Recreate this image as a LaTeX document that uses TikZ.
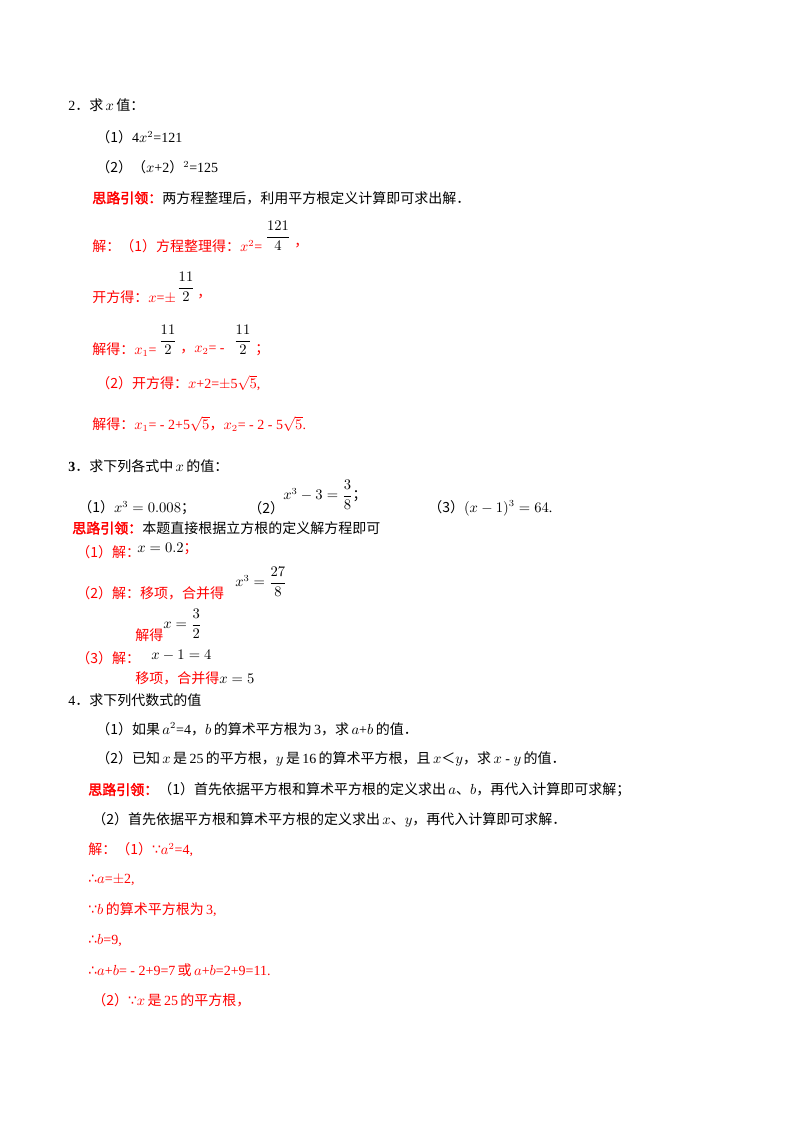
\documentclass[tikz,border=0pt]{standalone}
\usepackage{amsmath}
\usepackage{fontspec}
\setmainfont{Liberation Serif}
\newfontfamily\cjk{Noto Sans CJK SC}
\newfontfamily\cjkb[FakeBold=2.5]{Noto Sans CJK SC}
\newfontfamily\djf{DejaVu Sans}
\definecolor{rd}{HTML}{FF0000}
\newcommand{\C}[1]{{\cjk #1}}
\newcommand{\B}[1]{{\cjkb #1}}
\begin{document}
\begin{tikzpicture}[x=0.75pt,y=-0.75pt,
  t/.style={anchor=west,inner sep=0pt,font=\fontsize{10.5}{12}\selectfont},
  r/.style={t,text=rd},
  f/.style={anchor=center,inner sep=0pt,font=\fontsize{10.5}{12}\selectfont}]
\useasboundingbox[fill=white] (0,0) rectangle (800,1132);
\node[t] (a1) at (68,105) {2\C{．求}$\,x\,$\C{值：}};
\node[t] (a2) at (96,137) {\C{（1）}4$x^2$=121};
\node[t] (a3) at (96,167) {\C{（2）（}$x$+2\C{）}$^2$=125};
\node[t] (a4) at (92,198) {\textcolor{rd}{\B{思路引领：}}\C{两方程整理后，利用平方根定义计算即可求出解．}};
\node[r] (a5) at (92,246) {\C{解：（1）方程整理得：}$x^2$=};
\node[f] (a5f) at (278,236) {$\dfrac{121}{4}$};
\node[r] (a5c) at (294,246) {\C{，}};
\node[r] (a6) at (92,297) {\C{开方得：}$x$=$\pm$};
\node[f] (a6f) at (186,287) {$\dfrac{11}{2}$};
\node[r] (a6c) at (197,297) {\C{，}};
\node[r] (a7) at (92,350) {\C{解得：}$x_1$=};
\node[f] (a7f) at (168,340) {$\dfrac{11}{2}$};
\node[r] (a7b) at (180,350) {\C{，}$x_2$= -};
\node[f] (a7g) at (243,340) {$\dfrac{11}{2}$};
\node[r] (a7c) at (255,350) {\C{；}};
\node[r] (a8) at (96,383) {\C{（2）开方得：}$x$+2=$\pm$5$\sqrt{5}$,};
\node[r] (a9) at (92,424) {\C{解得：}$x_1$= - 2+5$\sqrt{5}$\C{，}$x_2$= - 2 - 5$\sqrt{5}$.};
\node[t] (b1) at (68,466) {\textbf{3}\C{．求下列各式中}$\,x\,$\C{的值：}};
\node[t] (b2) at (78,508) {\C{（1）}$x^3=0.008$\C{；}};
\node[t] (b3) at (248,508) {\C{（2）}};
\node[t] (b3e) at (283,495) {$x^3-3=\dfrac{3}{8}$\C{；}};
\node[t] (b4) at (428,508) {\C{（3）}$(x-1)^3=64$.};
\node[t] (b5) at (72,528) {\textcolor{rd}{\B{思路引领：}}\C{本题直接根据立方根的定义解方程即可}};
\node[r] (b6) at (76,552) {\C{（1）解：}};
\node[t] (b6e) at (137,549) {$x=0.2$\textcolor{rd}{\C{；}}};
\node[r] (b7) at (76,593) {\C{（2）解：移项，合并得}};
\node[t] (b7e) at (235,582) {$x^3=\dfrac{27}{8}$};
\node[r] (b8) at (135,635) {\C{解得}};
\node[t] (b8e) at (163,624) {$x=\dfrac{3}{2}$};
\node[r] (b9) at (76,658) {\C{（3）解：}};
\node[t] (b9e) at (151,655) {$x-1=4$};
\node[r] (b10) at (135,678) {\C{移项，合并得}\textcolor{black}{$x=5$}};
\node[t] (c1) at (68,700) {4\C{．求下列代数式的值}};
\node[t] (c2) at (96,729) {\C{（1）如果}$\,a^2$=4\C{，}$b\,$\C{的算术平方根为}\,3\C{，求}$\,a$+$b\,$\C{的值．}};
\node[t] (c3) at (96,759) {\C{（2）已知}$\,x\,$\C{是}\,25\,\C{的平方根，}$y\,$\C{是}\,16\,\C{的算术平方根，且}$\,x$\C{＜}$y$\C{，求}$\,x$ - $y\,$\C{的值．}};
\node[t] (c4) at (88,790) {\textcolor{rd}{\B{思路引领：}}\C{（1）首先依据平方根和算术平方根的定义求出}$\,a$\C{、}$b$\C{，再代入计算即可求解；}};
\node[t] (c5) at (92,820) {\C{（2）首先依据平方根和算术平方根的定义求出}$\,x$\C{、}$y$\C{，再代入计算即可求解．}};
\node[r] (c6) at (88,850) {\C{解：（1）}{\djf ∵}$a^2$=4,};
\node[r] (c7) at (88,880) {{\djf ∴}$a$=$\pm$2,};
\node[r] (c8) at (88,910) {{\djf ∵}$b\,$\C{的算术平方根为}\,3,};
\node[r] (c9) at (88,940) {{\djf ∴}$b$=9,};
\node[r] (c10) at (88,970) {{\djf ∴}$a$+$b$= - 2+9=7\,\C{或}\,$a$+$b$=2+9=11.};
\node[r] (c11) at (92,1000) {\C{（2）}{\djf ∵}$x\,$\C{是}\,25\,\C{的平方根，}};
\end{tikzpicture}
\end{document}
